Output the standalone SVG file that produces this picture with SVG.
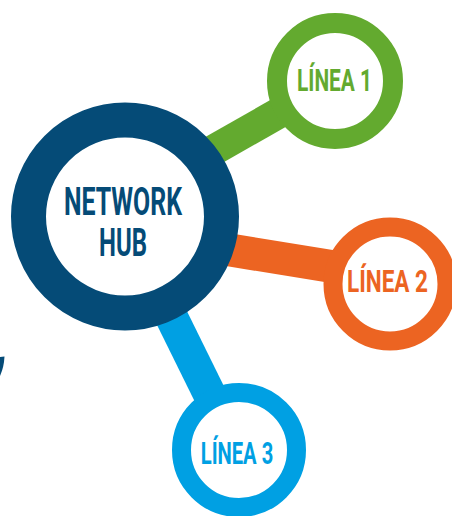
<svg xmlns="http://www.w3.org/2000/svg" width="452" height="516" viewBox="0 0 452 516">
<style>
.bar{fill:none;stroke-linecap:butt}
.ring{fill:#ffffff}
.lbl{font-family:"Liberation Sans Narrow","Roboto","Liberation Sans",sans-serif;font-weight:bold;text-anchor:middle}
.hubtxt{fill:#054b77;font-size:39px}
.ltxt{font-size:32px}
</style>
<rect width="452" height="516" fill="#ffffff"/>
<g id="connectors">
<line class="bar" x1="205" y1="155" x2="335" y2="81" stroke="#63aa2f" stroke-width="31"/>
<line class="bar" x1="218" y1="248" x2="390" y2="276" stroke="#ec6422" stroke-width="33"/>
<line class="bar" x1="168" y1="310" x2="237" y2="450" stroke="#00a0e3" stroke-width="33"/>
</g>
<g id="hub">
<circle class="ring" cx="125" cy="216.5" r="96.5" stroke="#054b77" stroke-width="35"/>
<text class="lbl hubtxt" x="123" y="215" textLength="118" lengthAdjust="spacingAndGlyphs">NETWORK</text>
<text class="lbl hubtxt" x="123" y="256" textLength="48" lengthAdjust="spacingAndGlyphs">HUB</text>
</g>
<g id="linea1">
<circle class="ring" cx="335" cy="81" r="58" stroke="#63aa2f" stroke-width="20"/>
<text class="lbl ltxt" x="334.5" y="91" fill="#63aa2f" textLength="75" lengthAdjust="spacingAndGlyphs">LÍNEA 1</text>
</g>
<g id="linea2">
<circle class="ring" cx="390" cy="284" r="57" stroke="#ec6422" stroke-width="19"/>
<text class="lbl ltxt" x="387.5" y="292" fill="#ec6422" textLength="81" lengthAdjust="spacingAndGlyphs">LÍNEA 2</text>
</g>
<g id="linea3">
<circle class="ring" cx="239" cy="450" r="57.5" stroke="#00a0e3" stroke-width="19"/>
<text class="lbl ltxt" x="237" y="464" fill="#00a0e3" textLength="72.5" lengthAdjust="spacingAndGlyphs">LÍNEA 3</text>
</g>
<path d="M0,357 L4.5,356.5 Q4,367 0,376 Z" fill="#054b77"/>
</svg>
